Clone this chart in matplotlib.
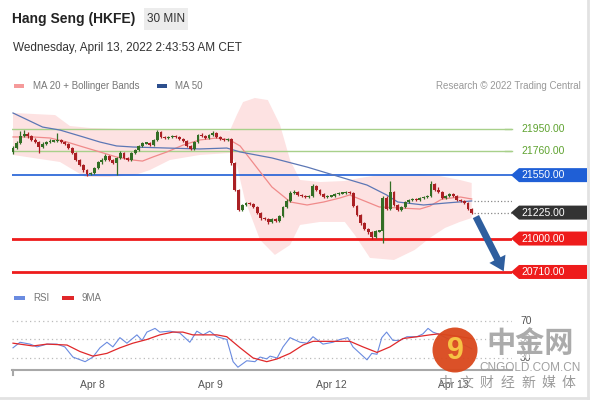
import matplotlib
matplotlib.use("Agg")
import matplotlib.pyplot as plt
from matplotlib.patches import Polygon, Rectangle, Circle, FancyArrowPatch
import numpy as np

plt.rcParams['font.family'] = ['Liberation Sans', 'Noto Sans CJK SC', 'DejaVu Sans']

# ---- data (30 min bars) ----
opens = [21750, 21785, 21829, 21889, 21907, 21889, 21855, 21837, 21794, 21820,
         21837, 21846, 21846, 21855, 21837, 21820, 21785, 21742, 21681, 21638,
         21594, 21560, 21568, 21612, 21664, 21681, 21716, 21681, 21655, 21699,
         21742, 21699, 21681, 21742, 21768, 21803, 21829, 21829, 21811, 21855,
         21924, 21881, 21872, 21881, 21889, 21881, 21863, 21846, 21803, 21777,
         21837, 21898, 21889, 21872, 21898, 21915, 21881, 21863, 21855, 21863,
         21655, 21421, 21248, 21291, 21308, 21300, 21274, 21222, 21178, 21170,
         21144, 21170, 21152, 21196, 21274, 21326, 21395, 21404, 21378, 21369,
         21360, 21369, 21456, 21421, 21386, 21360, 21369, 21369, 21386, 21395,
         21395, 21404, 21395, 21282, 21204, 21135, 21083, 21057, 21014, 21066,
         21066, 21352, 21256, 21404, 21291, 21248, 21274, 21317, 21334, 21343,
         21334, 21352, 21360, 21369, 21473, 21421, 21404, 21352, 21369, 21386,
         21369, 21334, 21326, 21308, 21256]
closes = [21785, 21829, 21889, 21907, 21889, 21855, 21837, 21794, 21820, 21837,
          21846, 21846, 21855, 21837, 21820, 21785, 21742, 21681, 21638, 21594,
          21560, 21568, 21612, 21664, 21681, 21716, 21681, 21655, 21699, 21742,
          21699, 21681, 21742, 21768, 21803, 21829, 21829, 21811, 21855, 21924,
          21881, 21872, 21881, 21889, 21881, 21863, 21846, 21803, 21777, 21837,
          21898, 21889, 21872, 21898, 21915, 21881, 21863, 21855, 21863, 21655,
          21421, 21248, 21291, 21308, 21300, 21274, 21222, 21178, 21170, 21144,
          21170, 21152, 21196, 21274, 21326, 21395, 21404, 21378, 21369, 21360,
          21369, 21456, 21421, 21386, 21360, 21369, 21369, 21386, 21395, 21395,
          21404, 21395, 21282, 21204, 21135, 21083, 21057, 21014, 21066, 21066,
          21352, 21256, 21404, 21291, 21248, 21274, 21317, 21334, 21343, 21334,
          21352, 21360, 21369, 21473, 21421, 21404, 21352, 21369, 21386, 21369,
          21334, 21326, 21308, 21256, 21222]
highs = [21800, 21845, 21935, 21945, 21925, 21900, 21870, 21850, 21835, 21850,
         21860, 21858, 21915, 21865, 21845, 21830, 21795, 21750, 21690, 21650,
         21605, 21580, 21620, 21675, 21700, 21730, 21725, 21690, 21710, 21755,
         21750, 21710, 21750, 21780, 21815, 21840, 21840, 21835, 21865, 21945,
         21930, 21890, 21890, 21900, 21895, 21890, 21870, 21855, 21810, 21845,
         21910, 21915, 21895, 21910, 21930, 21925, 21890, 21870, 21875, 21870,
         21665, 21430, 21300, 21320, 21320, 21310, 21285, 21230, 21190, 21180,
         21180, 21180, 21205, 21285, 21340, 21410, 21420, 21410, 21385, 21375,
         21380, 21470, 21465, 21430, 21395, 21380, 21380, 21395, 21405, 21405,
         21415, 21410, 21400, 21290, 21210, 21145, 21090, 21065, 21075, 21075,
         21365, 21365, 21500, 21410, 21300, 21285, 21325, 21345, 21355, 21350,
         21360, 21370, 21380, 21495, 21480, 21450, 21410, 21380, 21395, 21395,
         21375, 21340, 21335, 21315, 21265]
lows = [21735, 21775, 21820, 21880, 21875, 21845, 21825, 21740, 21785, 21810,
        21830, 21835, 21840, 21825, 21810, 21775, 21730, 21670, 21625, 21580,
        21545, 21550, 21560, 21600, 21650, 21670, 21670, 21645, 21555, 21690,
        21690, 21670, 21670, 21735, 21760, 21795, 21820, 21800, 21800, 21850,
        21870, 21865, 21865, 21875, 21870, 21855, 21835, 21795, 21765, 21770,
        21830, 21880, 21860, 21865, 21890, 21870, 21855, 21845, 21845, 21640,
        21410, 21235, 21240, 21280, 21290, 21265, 21210, 21165, 21160, 21130,
        21135, 21140, 21145, 21190, 21265, 21320, 21385, 21365, 21360, 21350,
        21350, 21360, 21410, 21375, 21350, 21350, 21360, 21360, 21380, 21385,
        21385, 21385, 21270, 21195, 21120, 21070, 21040, 21000, 21005, 21055,
        20962, 21245, 21250, 21280, 21235, 21240, 21265, 21310, 21325, 21325,
        21325, 21345, 21355, 21360, 21410, 21395, 21345, 21345, 21360, 21360,
        21325, 21315, 21300, 21245, 21215]

ma20_x = [0, 5.4, 10, 14.6, 19, 23.5, 28, 32.4, 35, 37.8, 41.6, 46, 50.5, 55, 58.6,
          61.4, 66, 70, 75, 79.5, 84, 88.4, 91, 95.7, 99, 104.6, 110, 112.7, 116, 121, 124]
ma20_y = [21881, 21881, 21872, 21837, 21794, 21751, 21707, 21681, 21672, 21707, 21751,
          21811, 21855, 21872, 21855, 21803, 21612, 21447, 21317, 21291, 21317, 21352,
          21378, 21317, 21274, 21265, 21256, 21282, 21343, 21360, 21343]
ma50_x = [0, 8, 12.7, 19, 23.5, 28, 32.4, 41.6, 50.5, 57.8, 61.4, 70, 79.5, 88.4,
          95.7, 101, 104, 111, 117, 124]
ma50_y = [22089, 21967, 21941, 21881, 21837, 21803, 21794, 21785, 21777, 21785, 21751,
          21699, 21620, 21534, 21464, 21378, 21317, 21291, 21308, 21326]
bb_up_x = [0, 11.4, 13.2, 15.4, 20.8, 37, 50.5, 58.6, 60.5, 62.2, 65.4, 68.9, 72.2,
           74.9, 77.6, 83, 89.7, 93.8, 99.2, 110, 115.4, 120.8, 124]
bb_up_y = [22089, 22071, 22028, 21976, 21959, 21941, 21941, 21933, 22071, 22184, 22219,
           22201, 21985, 21681, 21508, 21490, 21499, 21525, 21551, 21560, 21542, 21508,
           21482]
bb_lo_x = [0, 12.7, 19.5, 26.2, 33, 37, 42.4, 50.5, 58.6, 60.5, 62.7, 66.8, 70.8,
           74.9, 77.6, 83, 89.7, 92.4, 96.5, 103, 108.6, 112.7, 116.8, 120.8, 124]
bb_lo_y = [21725, 21664, 21534, 21534, 21551, 21594, 21681, 21725, 21742, 21638, 21334,
           20988, 20858, 20944, 21118, 21144, 21144, 21031, 20832, 20814, 20901, 21005,
           21092, 21144, 21178]

rsi_x = [0, 1.9, 4.6, 6.5, 9.2, 11.9, 14, 16.2, 19.5, 21.6, 23.5, 25.4, 27, 28.9,
         30.8, 33.5, 34.9, 36.2, 38.4, 39.7, 42.4, 45.1, 47.8, 49.7, 51.4, 53.2, 55.1,
         57.8, 59.5, 60.8, 63.2, 65.4, 66.8, 68.6, 69.5, 71.4, 73, 74.9, 77.6, 79.5,
         81.1, 83.8, 86.5, 88.4, 90.5, 91.9, 95.7, 97, 98.4, 99.7, 101, 102.7, 104.6,
         106.5, 109.2, 110.8, 112.2, 113.5, 114.9, 118, 121, 124]
rsi_y = [41, 47, 45, 42, 45, 45, 42, 31, 26, 31, 41, 47, 42, 52, 46, 55, 49, 58, 62,
         58, 59, 57, 47, 59, 55, 59, 53, 50, 26, 20, 27, 26, 31, 29, 32, 30, 42, 52,
         47, 46, 53, 45, 47, 50, 52, 42, 28, 35, 34, 52, 58, 49, 49, 53, 53, 56, 62,
         58, 56, 50, 46, 40]
ma9_x = [0, 5.4, 9.2, 14.6, 18.1, 21.6, 25.4, 28.9, 32.4, 36.2, 39.7, 43.2, 45.9, 48.6,
         55.1, 57.8, 61.4, 64.9, 68.6, 71.4, 74.9, 78.4, 81.1, 85.7, 91.1, 94.6, 98.4,
         101.9, 105.4, 109.2, 112.7, 114.9, 119.3, 124]
ma9_y = [46, 43, 45, 44, 37, 32, 35, 41, 46, 50, 55, 58, 58, 55, 55, 53, 41, 30, 26,
         29, 35, 44, 48, 48, 48, 42, 36, 42, 51, 53, 55, 56, 54, 51]

levels = [21950, 21760, 21550, 21225, 21000, 20710]
date_ticks = [21.5, 53.5, 86, 119]
date_labels = ['Apr 8', 'Apr 9', 'Apr 12', 'Apr 13']
rsi_levels = [70, 50, 30]
slogan = ['中', '文', '财', '经', '新', '媒', '体']

# ---- layout helpers (pixel boxes on a 590x400 canvas) ----
W, H = 590, 400
fig = plt.figure(figsize=(5.9, 4.0), dpi=100, facecolor='white')


def box(l, t, r, b):
    return [l / W, 1 - b / H, (r - l) / W, (b - t) / H]


bg = fig.add_axes([0, 0, 1, 1], zorder=0)
bg.set_xlim(0, W); bg.set_ylim(H, 0); bg.axis('off')

ax = fig.add_axes(box(12, 95, 512, 285), zorder=1)
ax.set_facecolor('none')
ax.set_xlim(-0.27, 134.9)
ax.set_ylim(20597, 22245)
ax.axis('off')

rax = fig.add_axes(box(12, 305, 512, 370), zorder=1)
rax.set_facecolor('none')
rax.set_xlim(-0.27, 134.9)
rax.set_ylim(17, 87.3)

fg = fig.add_axes([0, 0, 1, 1], zorder=5)
fg.set_facecolor('none')
fg.set_xlim(0, W); fg.set_ylim(H, 0); fg.axis('off')


def to_px(p):
    return H - ax.transData.transform((0, p))[1]


# ---- header ----
bg.text(12, 19, 'Hang Seng (HKFE)', fontsize=10, fontweight='bold', color='#222222', va='center')
bg.add_patch(Rectangle((144, 8), 44, 22, color='#ececec', lw=0))
bg.text(166, 19, '30 MIN', fontsize=8.5, color='#333333', ha='center', va='center')
bg.text(13, 48, 'Wednesday, April 13, 2022 2:43:53 AM CET', fontsize=8.5, color='#333333', va='center')

bg.add_patch(Rectangle((14, 84), 10, 4, color='#f59a9a', lw=0))
bg.text(33, 86, 'MA 20 + Bollinger Bands', fontsize=7, color='#777777', va='center')
bg.add_patch(Rectangle((157, 84), 10, 4, color='#2d4f8e', lw=0))
bg.text(175, 86, 'MA 50', fontsize=7, color='#777777', va='center')
bg.text(581, 86, 'Research \u00a9 2022 Trading Central', fontsize=7, color='#999999',
        va='center', ha='right')

# frame
bg.plot([588, 588], [0, 398], color='#e2e2e2', lw=2)
bg.plot([0, 588], [398, 398], color='#e2e2e2', lw=2)

# ---- price panel ----
ax.fill(np.concatenate([bb_up_x, bb_lo_x[::-1]]),
        np.concatenate([bb_up_y, bb_lo_y[::-1]]), color='#fde2e2', lw=0, zorder=1)
ax.plot(ma20_x, ma20_y, color='#f08a8a', lw=0.9, zorder=2)
ax.plot(ma50_x, ma50_y, color='#5c77b5', lw=0.9, zorder=2)

ax.axhline(levels[0], color='#a8d08a', lw=1, zorder=1)
ax.axhline(levels[1], color='#a8d08a', lw=1, zorder=1)
ax.axhline(levels[2], color='#1f5fd6', lw=1.2, zorder=1)
ax.axhline(levels[4], color='#ee1c1c', lw=2, zorder=1)
ax.axhline(levels[5], color='#ee1c1c', lw=2, zorder=1)
ax.hlines(levels[3], 124.6, 134.9, color='#888888', lw=0.9, linestyles=':', zorder=1)
ax.hlines(ma50_y[-1], 124.6, 134.9, color='#888888', lw=0.9, linestyles=':', zorder=1)

idx = np.arange(len(closes))
o = np.array(opens); c = np.array(closes)
cols = np.where(c >= o, '#336e25', '#aa2024')
ax.vlines(idx, lows, highs, colors=cols, lw=0.9, zorder=3)
body = np.maximum(np.abs(c - o), 12)
ax.bar(idx, body, bottom=np.minimum(o, c) - (body - np.abs(c - o)) / 2, width=0.78,
       color=cols, lw=0, zorder=4)

arrow = FancyArrowPatch((124.8, 21212), (133.0, 20695),
                        arrowstyle='simple,head_width=2.6,head_length=2.0,tail_width=1.0',
                        mutation_scale=5, color='#2e5e9e', lw=0, zorder=6, clip_on=False)
ax.add_patch(arrow)

# right-hand labels
for p in levels[:2]:
    fg.plot([505, 512], [to_px(p)] * 2, color='#a8d08a', lw=1)
    fg.text(521, to_px(p), f'{p:.2f}', fontsize=7.5, color='#5fa330', va='center')
for p, col in [(levels[2], '#1f5fd6'), (levels[3], '#333333'), (levels[4], '#ee1c1c'), (levels[5], '#ee1c1c')]:
    y = to_px(p)
    fg.add_patch(Polygon([(511, y), (519, y - 7), (587, y - 7), (587, y + 7), (519, y + 7)],
                         closed=True, color=col, lw=0))
    fg.text(521, y, f'{p:.2f}', fontsize=7.5, color='white', va='center')

# ---- RSI panel ----
for lv in rsi_levels:
    rax.axhline(lv, color='#bbbbbb', lw=0.9, ls=(0, (1, 2.5)))
rax.plot(rsi_x, rsi_y, color='#6a8be0', lw=0.8)
rax.plot(ma9_x, ma9_y, color='#e0282a', lw=0.9)
for s in ['top', 'right', 'left']:
    rax.spines[s].set_visible(False)
rax.spines['bottom'].set_color('#a8a8a8')
rax.spines['bottom'].set_linewidth(1.5)
rax.set_yticks([])
rax.set_xticks(date_ticks)
rax.set_xticklabels(date_labels, fontsize=7.5, color='#555555')
rax.tick_params(axis='x', length=0, pad=7)
fg.plot([12.5, 12.5], [370, 375], color='#a8a8a8', lw=1.5)

bg.add_patch(Rectangle((14, 296), 11, 4, color='#6a8be0', lw=0))
bg.text(33, 298, 'RSI', fontsize=7, color='#777777', va='center')
bg.add_patch(Rectangle((62, 296), 12, 4, color='#e0282a', lw=0))
bg.text(82, 298, '9MA', fontsize=7, color='#777777', va='center')

for lv in rsi_levels:
    y = H - rax.transData.transform((0, lv))[1]
    bg.text(520, y, str(lv), fontsize=7.5, color='#555555', va='center')

# ---- watermark ----
fg.add_patch(Circle((455, 350), 22.5, color='#d9481c', alpha=0.95, lw=0))
fg.text(455, 351, '9', fontsize=22, fontweight='bold', color='#f7c244', ha='center', va='center')
fg.text(530, 343, '中金网', fontsize=21, fontweight='bold', color='#ababab', ha='center',
        va='center', family=['Noto Sans CJK SC', 'DejaVu Sans'],
        bbox=dict(facecolor='white', edgecolor='none', alpha=0.55, pad=0))
fg.text(530, 368, 'CNGOLD.COM.CN', fontsize=8.5, color='#a0a0a0', ha='center', va='center')
for k, ch in enumerate(slogan):
    fg.text(446 + k * 20.5, 383, ch, fontsize=10, color='#9a9a9a', ha='center', va='center',
            family=['Noto Sans CJK SC', 'DejaVu Sans'])

fig.savefig('out.png', dpi=100, facecolor='white')
